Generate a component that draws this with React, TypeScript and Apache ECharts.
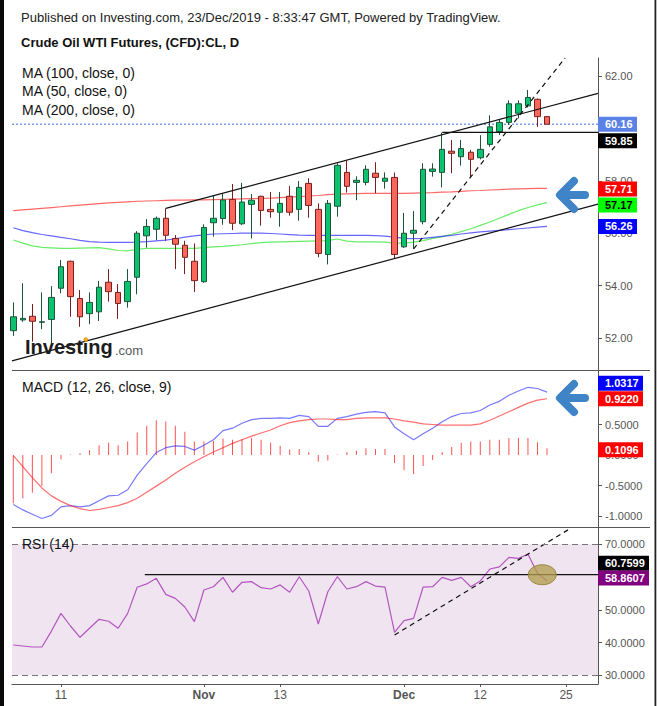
import React, { useEffect, useRef } from 'react';
import * as echarts from 'echarts';

const dates = [
  '2019-10-04', '2019-10-07', '2019-10-08', '2019-10-09', '2019-10-10', '2019-10-11',
  '2019-10-14', '2019-10-15', '2019-10-16', '2019-10-17', '2019-10-18',
  '2019-10-21', '2019-10-22', '2019-10-23', '2019-10-24', '2019-10-25',
  '2019-10-28', '2019-10-29', '2019-10-30', '2019-10-31', '2019-11-01',
  '2019-11-04', '2019-11-05', '2019-11-06', '2019-11-07', '2019-11-08',
  '2019-11-11', '2019-11-12', '2019-11-13', '2019-11-14', '2019-11-15',
  '2019-11-18', '2019-11-19', '2019-11-20', '2019-11-21', '2019-11-22',
  '2019-11-25', '2019-11-26', '2019-11-27', '2019-11-28', '2019-11-29',
  '2019-12-02', '2019-12-03', '2019-12-04', '2019-12-05', '2019-12-06',
  '2019-12-09', '2019-12-10', '2019-12-11', '2019-12-12', '2019-12-13',
  '2019-12-16', '2019-12-17', '2019-12-18', '2019-12-19', '2019-12-20',
  '2019-12-23',
];
const futureDates = ['2019-12-24', '2019-12-25', '2019-12-26', '2019-12-27', '2019-12-30'];

const opens = [52.28, 52.69, 52.83, 52.60, 52.71, 53.90, 54.93, 53.51, 52.93, 53.00, 54.13, 53.74, 53.39, 54.32, 55.90, 56.15, 56.57, 55.80, 55.54, 54.93, 54.15, 56.40, 56.56, 57.29, 56.36, 57.10, 57.41, 56.91, 56.80, 57.41, 56.91, 57.90, 56.91, 55.19, 57.03, 58.32, 57.94, 57.94, 58.29, 57.98, 58.13, 55.48, 56.00, 56.44, 58.36, 58.32, 59.13, 58.92, 59.09, 58.88, 59.39, 59.88, 60.23, 60.58, 60.86, 61.11, 60.45];
const highs = [53.36, 54.09, 53.30, 53.74, 53.98, 54.98, 54.95, 53.83, 53.74, 54.18, 54.63, 54.06, 54.63, 56.08, 56.54, 56.64, 56.95, 55.93, 55.71, 55.61, 56.34, 57.43, 57.50, 57.88, 57.92, 57.50, 57.43, 57.57, 57.57, 57.80, 57.99, 58.10, 57.14, 57.27, 58.67, 58.77, 58.17, 58.59, 58.71, 58.32, 58.32, 56.77, 56.85, 58.67, 58.67, 59.84, 59.56, 59.56, 59.18, 59.74, 60.50, 60.32, 61.07, 61.07, 61.47, 61.14, 60.47];
const lows = [52.08, 52.62, 51.86, 52.34, 51.81, 53.71, 52.81, 52.43, 52.53, 52.65, 53.39, 52.73, 53.16, 53.67, 55.45, 55.73, 55.71, 54.63, 54.44, 53.76, 54.11, 55.87, 56.32, 56.12, 56.31, 55.80, 56.29, 56.59, 56.25, 56.67, 56.48, 56.59, 55.08, 54.81, 56.63, 57.55, 57.26, 57.83, 57.53, 57.70, 55.04, 55.44, 55.40, 56.34, 58.16, 57.75, 58.29, 58.58, 58.13, 58.82, 59.30, 59.75, 60.13, 60.38, 60.80, 60.06, 60.16];
const closes = [52.81, 52.75, 52.64, 52.62, 53.55, 54.72, 53.58, 52.81, 53.36, 53.94, 53.77, 53.32, 54.16, 56.00, 56.26, 56.57, 55.92, 55.58, 55.08, 54.19, 56.22, 56.57, 57.27, 56.38, 57.19, 57.26, 56.87, 56.82, 57.14, 56.80, 57.75, 57.06, 55.23, 57.14, 58.59, 57.79, 58.02, 58.44, 58.13, 58.10, 55.19, 56.00, 56.11, 58.44, 58.45, 59.20, 59.05, 59.23, 58.82, 59.20, 60.06, 60.23, 60.94, 60.94, 61.18, 60.45, 60.16];

const ma200 = [56.86, 56.89, 56.92, 56.95, 56.98, 57.01, 57.04, 57.07, 57.10, 57.13, 57.16, 57.18, 57.20, 57.22, 57.23, 57.24, 57.25, 57.26, 57.26, 57.27, 57.27, 57.28, 57.29, 57.30, 57.31, 57.32, 57.33, 57.34, 57.36, 57.38, 57.40, 57.42, 57.44, 57.47, 57.49, 57.50, 57.51, 57.52, 57.52, 57.52, 57.52, 57.52, 57.53, 57.54, 57.55, 57.57, 57.58, 57.60, 57.62, 57.63, 57.65, 57.66, 57.68, 57.69, 57.70, 57.71, 57.71];
const ma100 = [56.21, 56.10, 56.02, 55.95, 55.90, 55.84, 55.79, 55.73, 55.68, 55.66, 55.65, 55.65, 55.65, 55.66, 55.68, 55.71, 55.74, 55.79, 55.85, 55.90, 55.94, 55.97, 55.98, 55.99, 56.00, 56.00, 56.00, 55.99, 55.97, 55.95, 55.93, 55.92, 55.92, 55.92, 55.92, 55.92, 55.92, 55.92, 55.91, 55.89, 55.85, 55.80, 55.79, 55.80, 55.84, 55.88, 55.92, 55.97, 56.01, 56.05, 56.08, 56.11, 56.14, 56.17, 56.20, 56.23, 56.26];
const ma50 = [55.74, 55.62, 55.52, 55.46, 55.44, 55.42, 55.42, 55.43, 55.44, 55.45, 55.40, 55.34, 55.33, 55.38, 55.42, 55.42, 55.42, 55.42, 55.42, 55.42, 55.45, 55.48, 55.50, 55.53, 55.56, 55.60, 55.64, 55.66, 55.67, 55.68, 55.69, 55.70, 55.71, 55.72, 55.78, 55.70, 55.67, 55.67, 55.67, 55.66, 55.62, 55.62, 55.66, 55.72, 55.80, 55.87, 55.96, 56.06, 56.17, 56.30, 56.43, 56.57, 56.72, 56.86, 56.98, 57.08, 57.17];

const macdLine = [-0.81, -0.90, -0.97, -1.04, -0.99, -0.85, -0.83, -0.85, -0.83, -0.75, -0.67, -0.66, -0.57, -0.33, -0.14, 0.04, 0.12, 0.15, 0.14, 0.08, 0.16, 0.25, 0.40, 0.44, 0.52, 0.58, 0.60, 0.60, 0.61, 0.60, 0.65, 0.63, 0.47, 0.47, 0.60, 0.63, 0.67, 0.70, 0.71, 0.69, 0.46, 0.35, 0.25, 0.35, 0.44, 0.545, 0.63, 0.68, 0.69, 0.73, 0.82, 0.88, 0.98, 1.05, 1.11, 1.09, 1.0317];
const signalLine = [-0.01, -0.19, -0.37, -0.54, -0.67, -0.76, -0.83, -0.88, -0.91, -0.89, -0.86, -0.83, -0.78, -0.71, -0.61, -0.51, -0.41, -0.30, -0.20, -0.11, -0.03, 0.05, 0.12, 0.19, 0.25, 0.31, 0.36, 0.41, 0.48, 0.53, 0.56, 0.58, 0.59, 0.59, 0.58, 0.58, 0.60, 0.61, 0.61, 0.61, 0.59, 0.56, 0.54, 0.51, 0.50, 0.49, 0.49, 0.49, 0.49, 0.51, 0.57, 0.64, 0.71, 0.78, 0.85, 0.90, 0.9220];
const macdHist = [-0.79, -0.71, -0.62, -0.51, -0.30, -0.07, 0.01, 0.03, 0.08, 0.16, 0.20, 0.16, 0.22, 0.37, 0.48, 0.57, 0.55, 0.48, 0.38, 0.22, 0.22, 0.23, 0.27, 0.25, 0.26, 0.28, 0.25, 0.20, 0.15, 0.09, 0.10, 0.05, -0.11, -0.09, 0.01, 0.05, 0.07, 0.11, 0.10, 0.10, -0.13, -0.25, -0.31, -0.18, -0.08, 0.05, 0.13, 0.20, 0.22, 0.22, 0.25, 0.25, 0.28, 0.28, 0.28, 0.21, 0.1096];
const rsi = [39.25, 38.95, 38.64, 38.64, 43.5, 48.9, 45.05, 41.6, 44.35, 47.1, 46.5, 44.35, 48.9, 56.9, 57.9, 59.6, 54.7, 53.5, 50.85, 46.4, 56.05, 57.05, 59.9, 55.35, 58.4, 58.6, 56.75, 56.35, 57.6, 55.35, 60.1, 55.75, 45.65, 55.5, 60.1, 56.35, 57.05, 58.6, 57.25, 56.95, 43.1, 46.7, 47.4, 56.95, 57.05, 59.9, 59.0, 59.9, 57.05, 58.8, 62.45, 63.1, 66.0, 65.7, 66.95, 61.15, 58.8607];

const xTickLabels = [
  { date: '2019-10-11', text: '11', month: false },
  { date: '2019-11-01', text: 'Nov', month: true },
  { date: '2019-11-13', text: '13', month: false },
  { date: '2019-12-02', text: 'Dec', month: true },
  { date: '2019-12-12', text: '12', month: false },
  { date: '2019-12-25', text: '25', month: false },
];
const priceTicks = [52, 54, 56, 58, 60, 62];
const priceTickLabels = [52, 54, 56, 58, 62]; // 60.00 is hidden behind the last-price box
const macdTicks = [-1, -0.5, 0, 0.5];
const rsiTicks = [30, 40, 50, 60, 70];
const rsiTickLabels = [30, 40, 50, 70]; // 60.0000 is hidden behind the value boxes

// annotations (data coordinates: [bar index, value])
const upperChannel = [[16, 56.95], [61.35, 61.34]];
const lowerChannel = [[-0.14, 51.13], [61.35, 57.11]];
const priceTrend = [[42, 55.40], [57.9, 62.69]];
const resistanceLevel = 59.85;
const resistanceStart = 45;
const rsiLevel = 60.7599;
const rsiLevelStart = 13.8;
const rsiTrend = [[40, 42.3], [58.2, 74.4]];
const rsiHighlight = [55.5, 60.7];

const X_MIN = -0.136;
const X_MAX = 61.35;
const FF = '"Liberation Sans", Arial, sans-serif';

export default function App() {
  const ref = useRef<HTMLDivElement>(null);
  useEffect(() => {
    if (!ref.current) return;
    const chart = echarts.init(ref.current, null, { renderer: 'svg' });
    const allDates = dates.concat(futureDates);
    const xTickIdx = xTickLabels.map((t) => allDates.indexOf(t.date));
    const lastIdx = dates.length - 1;
    const toXY = (arr: number[]) => arr.map((v, i) => [i, v]);

    const gridBase = { left: 12, right: 59, containLabel: false, outerBoundsMode: 'none' };
    const yBase = (gi: number, min: number, max: number, ticks: number[], labels: number[], dec: number) => ({
      gridIndex: gi,
      type: 'value',
      position: 'right',
      min,
      max,
      splitLine: { show: false },
      axisLine: { show: true, onZero: false, lineStyle: { color: '#555', width: 1 } },
      axisTick: { show: true, customValues: ticks, length: 4, lineStyle: { color: '#555' } },
      axisLabel: {
        customValues: labels,
        formatter: (v: number) => v.toFixed(dec),
        color: '#555',
        fontSize: 11,
        margin: 7,
        fontFamily: FF,
      },
    });

    const blackLine = (gi: number, data: number[][], dashed: boolean) => ({
      type: 'line',
      xAxisIndex: gi,
      yAxisIndex: gi,
      data,
      symbol: 'none',
      silent: true,
      z: 3,
      lineStyle: { color: '#111', width: 1.2, type: dashed ? [5, 4] : 'solid' },
    });

    const option: any = {
      animation: false,
      textStyle: { fontFamily: FF },
      grid: [
        { ...gridBase, top: 58, height: 312 },
        { ...gridBase, top: 371, height: 156 },
        { ...gridBase, top: 527, height: 157 },
      ],
      xAxis: [
        { type: 'value', gridIndex: 0, min: X_MIN, max: X_MAX, show: false },
        { type: 'value', gridIndex: 1, min: X_MIN, max: X_MAX, show: false },
        {
          type: 'value',
          gridIndex: 2,
          min: X_MIN,
          max: X_MAX,
          splitLine: { show: false },
          axisLine: { show: true, onZero: false, lineStyle: { color: '#555' } },
          axisTick: { show: true, customValues: xTickIdx, length: 3, lineStyle: { color: '#555' } },
          axisLabel: {
            customValues: xTickIdx,
            color: '#555',
            fontSize: 12,
            margin: 5,
            fontFamily: FF,
            formatter: (v: number) => {
              const k = xTickIdx.indexOf(Math.round(v));
              if (k < 0) return '';
              const t = xTickLabels[k];
              return t.month ? '{m|' + t.text + '}' : t.text;
            },
            rich: { m: { fontWeight: 'bold', fontSize: 12, color: '#555', fontFamily: FF } },
          },
        },
      ],
      yAxis: [
        yBase(0, 50.78, 62.687, priceTicks, priceTickLabels, 2),
        yBase(1, -1.18, 1.377, macdTicks, macdTicks, 4),
        yBase(2, 27.34, 75.28, rsiTicks, rsiTickLabels, 4),
      ],
      series: [
        { type: 'line', xAxisIndex: 0, yAxisIndex: 0, data: toXY(ma200), symbol: 'none', z: 1, silent: true, lineStyle: { color: 'rgba(255,0,0,0.6)', width: 1.2 } },
        { type: 'line', xAxisIndex: 0, yAxisIndex: 0, data: toXY(ma50), symbol: 'none', z: 1, silent: true, lineStyle: { color: 'rgba(0,225,0,0.6)', width: 1.2 } },
        { type: 'line', xAxisIndex: 0, yAxisIndex: 0, data: toXY(ma100), symbol: 'none', z: 1, silent: true, lineStyle: { color: 'rgba(0,0,255,0.6)', width: 1.2 } },
        {
          type: 'line', xAxisIndex: 0, yAxisIndex: 0, symbol: 'none', z: 1, silent: true,
          data: [[X_MIN, closes[lastIdx]], [X_MAX, closes[lastIdx]]],
          lineStyle: { color: '#3b6fe0', width: 1, type: [2, 2] },
        },
        {
          type: 'candlestick',
          xAxisIndex: 0,
          yAxisIndex: 0,
          encode: { x: 0, y: [1, 2, 3, 4] },
          data: dates.map((d, i) => [i, opens[i], closes[i], lows[i], highs[i]]),
          barWidth: 6,
          z: 2,
          itemStyle: {
            color: '#0bc26f',
            color0: '#fc675c',
            borderColor: '#1c553a',
            borderColor0: '#7a1f1f',
            borderWidth: 1,
          },
        },
        blackLine(0, upperChannel, false),
        blackLine(0, lowerChannel, false),
        blackLine(0, priceTrend, true),
        blackLine(0, [[resistanceStart, resistanceLevel], [X_MAX, resistanceLevel]], false),
        {
          type: 'bar', xAxisIndex: 1, yAxisIndex: 1, data: toXY(macdHist), barWidth: 1, silent: true,
          itemStyle: { color: '#ff5050' },
        },
        { type: 'line', xAxisIndex: 1, yAxisIndex: 1, data: toXY(macdLine), symbol: 'none', silent: true, lineStyle: { color: 'rgba(30,30,255,0.6)', width: 1.2 } },
        { type: 'line', xAxisIndex: 1, yAxisIndex: 1, data: toXY(signalLine), symbol: 'none', silent: true, lineStyle: { color: 'rgba(255,30,30,0.65)', width: 1.2 } },
        {
          type: 'line', xAxisIndex: 2, yAxisIndex: 2, data: toXY(rsi), symbol: 'none', silent: true, z: 2,
          lineStyle: { color: '#b157be', width: 1.2 },
          markArea: { silent: true, itemStyle: { color: '#f1e4f1' }, data: [[{ yAxis: 30 }, { yAxis: 70 }]] },
          markLine: {
            silent: true, symbol: 'none', label: { show: false },
            lineStyle: { color: '#777', type: [6, 4], width: 1 },
            data: [{ yAxis: 30 }, { yAxis: 70 }],
          },
        },
        blackLine(2, [[rsiLevelStart, rsiLevel], [X_MAX, rsiLevel]], false),
        blackLine(2, rsiTrend, true),
      ],
    };
    chart.setOption(option);

    const px = (g: number, x: number, y: number) => chart.convertToPixel({ gridIndex: g } as any, [x, y]) as number[];

    const valueBox = (g: number, v: number, dec: number, bg: string, fg: string, w: number, dy: number) => {
      const p = px(g, X_MAX, v);
      const cy = p[1] + dy;
      return [
        { type: 'rect', z: 100, shape: { x: 598, y: cy - 7.5, width: w, height: 15 }, style: { fill: bg } },
        {
          type: 'text', z: 101, x: 605, y: cy,
          style: { text: v.toFixed(dec), fill: fg, font: 'bold 11px ' + FF, align: 'left', verticalAlign: 'middle' },
        },
      ];
    };

    const txt = (x: number, y: number, text: string, size: number, weight: string, color: string) => ({
      type: 'text', z: 100, x, y,
      style: { text, fill: color, font: `${weight} ${size}px ${FF}`, align: 'left', verticalAlign: 'middle' },
    });

    const arrow = (cx: number, cy: number) => [
      {
        type: 'polyline', z: 100,
        shape: { points: [[cx + 2, cy - 14], [cx - 12, cy], [cx + 2, cy + 14]] },
        style: { stroke: '#3f84c6', lineWidth: 8, lineCap: 'round', lineJoin: 'round', fill: null },
      },
      {
        type: 'line', z: 100,
        shape: { x1: cx - 10, y1: cy, x2: cx + 13, y2: cy },
        style: { stroke: '#3f84c6', lineWidth: 8, lineCap: 'round' },
      },
    ];

    const hl = px(2, rsiHighlight[0], rsiHighlight[1]);

    const graphics: any[] = [
      { type: 'rect', z: 100, shape: { x: 0, y: 0, width: 4, height: 706 }, style: { fill: '#0a0a0a' } },
      { type: 'rect', z: 100, shape: { x: 654.5, y: 0, width: 1.8, height: 706 }, style: { fill: '#222' } },
      { type: 'line', z: 100, shape: { x1: 12, y1: 370.5, x2: 650, y2: 370.5 }, style: { stroke: '#555', lineWidth: 1 } },
      { type: 'line', z: 100, shape: { x1: 12, y1: 527.5, x2: 650, y2: 527.5 }, style: { stroke: '#555', lineWidth: 1 } },
      txt(21, 17, 'Published on Investing.com, 23/Dec/2019 - 8:33:47 GMT, Powered by TradingView.', 13, 'normal', '#222'),
      txt(21, 42.5, 'Crude Oil WTI Futures, (CFD):CL, D', 13, 'bold', '#111'),
      txt(22, 73, 'MA (100, close, 0)', 14, 'normal', '#111'),
      txt(22, 91.3, 'MA (50, close, 0)', 14, 'normal', '#111'),
      txt(22, 109.7, 'MA (200, close, 0)', 14, 'normal', '#111'),
      txt(22, 386.7, 'MACD (12, 26, close, 9)', 14, 'normal', '#111'),
      txt(22, 544, 'RSI (14)', 14, 'normal', '#111'),
      txt(25, 347, 'Investing', 20, 'bold', '#1c1c1c'),
      txt(115, 350, '.com', 13, 'normal', '#5a5a5a'),
      { type: 'circle', z: 101, shape: { cx: 85.8, cy: 339.5, r: 2.2 }, style: { fill: '#f5a11c' } },
      ...arrow(572, 195),
      ...arrow(572, 398),
      {
        type: 'ellipse', z: 100,
        shape: { cx: hl[0], cy: hl[1], rx: 14, ry: 10 },
        style: { fill: 'rgba(178,158,80,0.78)', stroke: '#9a883c', lineWidth: 1 },
      },
      ...valueBox(0, closes[lastIdx], 2, '#5a81e6', '#fff', 39, 0),
      ...valueBox(0, resistanceLevel, 2, '#000', '#fff', 39, 8.5),
      ...valueBox(0, ma200[lastIdx], 2, '#ff0000', '#fff', 39, 0.5),
      ...valueBox(0, ma50[lastIdx], 2, '#00ff00', '#000', 39, 2.5),
      ...valueBox(0, ma100[lastIdx], 2, '#0000ff', '#fff', 39, 0),
      ...valueBox(1, macdLine[lastIdx], 4, '#0000ff', '#fff', 45, -8.7),
      ...valueBox(1, signalLine[lastIdx], 4, '#ff0000', '#fff', 45, 0),
      ...valueBox(1, macdHist[lastIdx], 4, '#ff0000', '#fff', 45, 1.4),
      ...valueBox(2, rsiLevel, 4, '#000', '#fff', 51, -11.3),
      ...valueBox(2, rsi[lastIdx], 4, '#800080', '#fff', 51, -2.8),
    ];
    chart.setOption({ graphic: graphics });

    return () => chart.dispose();
  }, []);

  return (
    <div
      ref={ref}
      style={{ position: 'fixed', left: 0, top: 0, width: 657, height: 706, background: '#fff' }}
    />
  );
}
